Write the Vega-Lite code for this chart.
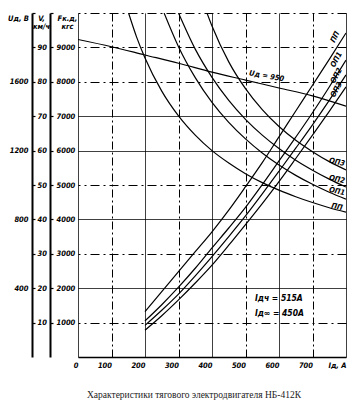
{
  "$schema": "https://vega.github.io/schema/vega-lite/v6.json",
  "width": 268,
  "height": 344,
  "autosize": {"type": "none"},
  "padding": {"left": 78, "top": 13, "right": 7, "bottom": 51},
  "background": "white",
  "config": {
    "view": {"stroke": null},
    "axis": {"labelFont": "Liberation Sans Narrow, DejaVu Sans Condensed, Liberation Sans", "labelFontSize": 7.5, "labelFontStyle": "italic", "labelFontWeight": "bold", "labelColor": "black", "titleFont": "Liberation Sans Narrow, DejaVu Sans Condensed, Liberation Sans", "titleColor": "black", "titleFontStyle": "italic", "titleFontWeight": "bold", "titleFontSize": 7.5, "labelOverlap": false}
  },
  "title": {"text": "Характеристики тягового электродвигателя НБ-412К", "orient": "bottom", "anchor": "middle", "font": "Liberation Serif", "fontSize": 9.5, "fontWeight": "normal", "color": "#222222", "dx": -18, "offset": 21},
  "datasets": {
    "speed": [
      {"series": "ПП", "I": 151, "V": 100}, {"series": "ПП", "I": 175, "V": 93.0}, {"series": "ПП", "I": 200, "V": 86.9}, {"series": "ПП", "I": 250, "V": 77.3}, {"series": "ПП", "I": 300, "V": 70.1}, {"series": "ПП", "I": 350, "V": 64.5}, {"series": "ПП", "I": 400, "V": 60.0}, {"series": "ПП", "I": 450, "V": 56.4}, {"series": "ПП", "I": 500, "V": 53.3}, {"series": "ПП", "I": 550, "V": 50.7}, {"series": "ПП", "I": 600, "V": 48.5}, {"series": "ПП", "I": 650, "V": 46.6}, {"series": "ПП", "I": 700, "V": 44.9}, {"series": "ПП", "I": 750, "V": 43.4}, {"series": "ПП", "I": 800, "V": 42.1},
      {"series": "ОП1", "I": 257, "V": 100}, {"series": "ОП1", "I": 300, "V": 90.2}, {"series": "ОП1", "I": 350, "V": 81.2}, {"series": "ОП1", "I": 400, "V": 74.0}, {"series": "ОП1", "I": 450, "V": 68.2}, {"series": "ОП1", "I": 500, "V": 63.4}, {"series": "ОП1", "I": 550, "V": 59.3}, {"series": "ОП1", "I": 600, "V": 55.8}, {"series": "ОП1", "I": 650, "V": 52.8}, {"series": "ОП1", "I": 700, "V": 50.2}, {"series": "ОП1", "I": 750, "V": 47.9}, {"series": "ОП1", "I": 800, "V": 45.9},
      {"series": "ОП2", "I": 300, "V": 100}, {"series": "ОП2", "I": 350, "V": 89.5}, {"series": "ОП2", "I": 400, "V": 81.3}, {"series": "ОП2", "I": 450, "V": 74.6}, {"series": "ОП2", "I": 500, "V": 69.1}, {"series": "ОП2", "I": 550, "V": 64.5}, {"series": "ОП2", "I": 600, "V": 60.6}, {"series": "ОП2", "I": 650, "V": 57.2}, {"series": "ОП2", "I": 700, "V": 54.3}, {"series": "ОП2", "I": 750, "V": 51.7}, {"series": "ОП2", "I": 800, "V": 49.4},
      {"series": "ОП3", "I": 385, "V": 100}, {"series": "ОП3", "I": 400, "V": 96.2}, {"series": "ОП3", "I": 450, "V": 85.8}, {"series": "ОП3", "I": 500, "V": 78.0}, {"series": "ОП3", "I": 550, "V": 71.9}, {"series": "ОП3", "I": 600, "V": 67.0}, {"series": "ОП3", "I": 650, "V": 63.0}, {"series": "ОП3", "I": 700, "V": 59.7}, {"series": "ОП3", "I": 750, "V": 56.8}, {"series": "ОП3", "I": 800, "V": 54.4},
      {"series": "U", "I": 0, "V": 92.3}, {"series": "U", "I": 100, "V": 90.2}, {"series": "U", "I": 200, "V": 87.8}, {"series": "U", "I": 300, "V": 85.4}, {"series": "U", "I": 400, "V": 82.8}, {"series": "U", "I": 500, "V": 80.5}, {"series": "U", "I": 600, "V": 78.2}, {"series": "U", "I": 700, "V": 75.9}, {"series": "U", "I": 800, "V": 72.9}
    ],
    "force": [
      {"series": "ПП", "I": 200, "F": 1320}, {"series": "ПП", "I": 250, "F": 1900}, {"series": "ПП", "I": 300, "F": 2480}, {"series": "ПП", "I": 350, "F": 3060}, {"series": "ПП", "I": 400, "F": 3640}, {"series": "ПП", "I": 450, "F": 4270}, {"series": "ПП", "I": 500, "F": 4950}, {"series": "ПП", "I": 550, "F": 5650}, {"series": "ПП", "I": 600, "F": 6400}, {"series": "ПП", "I": 650, "F": 7150}, {"series": "ПП", "I": 700, "F": 7900}, {"series": "ПП", "I": 750, "F": 8650}, {"series": "ПП", "I": 800, "F": 9420},
      {"series": "ОП1", "I": 200, "F": 1050}, {"series": "ОП1", "I": 250, "F": 1520}, {"series": "ОП1", "I": 300, "F": 2030}, {"series": "ОП1", "I": 350, "F": 2580}, {"series": "ОП1", "I": 400, "F": 3170}, {"series": "ОП1", "I": 450, "F": 3750}, {"series": "ОП1", "I": 500, "F": 4350}, {"series": "ОП1", "I": 550, "F": 5010}, {"series": "ОП1", "I": 600, "F": 5700}, {"series": "ОП1", "I": 650, "F": 6390}, {"series": "ОП1", "I": 700, "F": 7100}, {"series": "ОП1", "I": 750, "F": 7850}, {"series": "ОП1", "I": 800, "F": 8630},
      {"series": "ОП2", "I": 200, "F": 920}, {"series": "ОП2", "I": 250, "F": 1360}, {"series": "ОП2", "I": 300, "F": 1830}, {"series": "ОП2", "I": 350, "F": 2360}, {"series": "ОП2", "I": 400, "F": 2920}, {"series": "ОП2", "I": 450, "F": 3500}, {"series": "ОП2", "I": 500, "F": 4100}, {"series": "ОП2", "I": 550, "F": 4740}, {"series": "ОП2", "I": 600, "F": 5400}, {"series": "ОП2", "I": 650, "F": 6070}, {"series": "ОП2", "I": 700, "F": 6750}, {"series": "ОП2", "I": 750, "F": 7460}, {"series": "ОП2", "I": 800, "F": 8200},
      {"series": "ОП3", "I": 200, "F": 780}, {"series": "ОП3", "I": 250, "F": 1200}, {"series": "ОП3", "I": 300, "F": 1660}, {"series": "ОП3", "I": 350, "F": 2150}, {"series": "ОП3", "I": 400, "F": 2670}, {"series": "ОП3", "I": 450, "F": 3250}, {"series": "ОП3", "I": 500, "F": 3850}, {"series": "ОП3", "I": 550, "F": 4460}, {"series": "ОП3", "I": 600, "F": 5100}, {"series": "ОП3", "I": 650, "F": 5770}, {"series": "ОП3", "I": 700, "F": 6450}, {"series": "ОП3", "I": 750, "F": 7140}, {"series": "ОП3", "I": 800, "F": 7850}
    ],
    "speedLabels": [
      {"label": "ОП3", "I": 773, "V": 56.6},
      {"label": "ОП2", "I": 773, "V": 51.6},
      {"label": "ОП1", "I": 773, "V": 48.1},
      {"label": "ПП", "I": 773, "V": 43.6}
    ],
    "forceLabels": [
      {"label": "ПП", "I": 768, "F": 9300},
      {"label": "ОП1", "I": 772, "F": 8640},
      {"label": "ОП2", "I": 772, "F": 8175},
      {"label": "ОП3", "I": 772, "F": 7770}
    ],
    "notes": [
      {"label": "Iдч = 515А", "I": 528, "F": 1720},
      {"label": "Iд∞ = 450А", "I": 528, "F": 1280}
    ],
    "lineLabel": [
      {"label": "Uд = 950", "I": 563, "V": 81.6}
    ]
  },
  "encoding": {
    "x": {"field": "I", "type": "quantitative", "scale": {"domain": [0, 800], "nice": false, "zero": false},
      "axis": {"values": [0, 100, 200, 300, 400, 500, 600, 700, 800], "tickCount": 9, "title": null, "labelExpr": "datum.value == 800 ? 'Iд, А' : datum.label", "labelAlign": "right", "labelDx": -2, "labelPadding": 4, "ticks": false, "domainColor": "black", "domainWidth": 1.5, "grid": true, "gridColor": "black", "gridOpacity": 1, "gridWidth": 1, "gridDash": {"condition": {"test": "datum.value == 100 || datum.value == 300 || datum.value == 500 || datum.value == 700", "value": [8, 3, 2, 3]}, "value": [1, 0]}, "labelFlush": false, "labelOverlap": false}}
  },
  "layer": [
    {
      "data": {"name": "speed"},
      "mark": {"type": "line", "color": "black", "strokeWidth": 1.2, "interpolate": "monotone", "clip": true},
      "encoding": {
        "y": {"field": "V", "type": "quantitative", "scale": {"domain": [0, 100], "nice": false},
          "axis": {"orient": "right", "offset": -314, "values": [10, 20, 30, 40, 50, 60, 70, 80, 90, 100], "format": "d", "labelExpr": "datum.value == 100 ? '' : datum.label", "domainColor": "black", "domainWidth": 2, "tickColor": "black", "tickSize": 3, "tickWidth": 1.2, "labelPadding": 2, "grid": false, "title": ["V,", "км/ч"], "titleAngle": 0, "titleX": 9, "titleY": 1, "titleAlign": "center", "titleBaseline": "top", "titleLineHeight": 8}},
        "detail": {"field": "series"}
      }
    },
    {
      "data": {"name": "force"},
      "mark": {"type": "line", "color": "black", "strokeWidth": 1.2, "interpolate": "monotone", "clip": true},
      "encoding": {
        "y": {"field": "F", "type": "quantitative", "scale": {"domain": [0, 10000], "nice": false},
          "axis": {"orient": "right", "offset": -296, "values": [1000, 2000, 3000, 4000, 5000, 6000, 7000, 8000, 9000, 10000], "format": "d", "labelExpr": "datum.value == 10000 ? '' : datum.label", "domainColor": "black", "domainWidth": 2, "tickColor": "black", "tickSize": 3, "tickWidth": 1.2, "labelPadding": 3, "grid": true, "gridColor": "black", "gridOpacity": 1, "gridWidth": 1, "gridDash": {"condition": {"test": "datum.value == 2000 || datum.value == 4000 || datum.value == 6000 || datum.value == 7000", "value": [1, 0]}, "value": [9, 4, 2, 4]}, "title": ["Fк.д,", "кгс"], "titleAngle": 0, "titleX": 17, "titleY": 1, "titleAlign": "center", "titleBaseline": "top", "titleLineHeight": 8}},
        "detail": {"field": "series"}
      }
    },
    {
      "data": {"values": [{"U": 0}, {"U": 2000}]},
      "mark": {"type": "point", "opacity": 0},
      "encoding": {
        "y": {"field": "U", "type": "quantitative", "scale": {"domain": [0, 2000], "nice": false},
          "axis": {"orient": "left", "offset": 47, "values": [400, 800, 1200, 1600], "format": "d", "domain": false, "ticks": false, "labelPadding": 3, "grid": false, "title": "Uд, В", "titleAngle": 0, "titleX": -13, "titleY": 1, "titleAlign": "center", "titleBaseline": "top"}}
      }
    },
    {
      "data": {"name": "speedLabels"},
      "mark": {"type": "text", "font": "Liberation Sans Narrow, DejaVu Sans Condensed, Liberation Sans", "fontSize": 7.5, "fontStyle": "italic", "fontWeight": "bold", "color": "black", "angle": 12, "align": "center", "baseline": "middle"},
      "encoding": {
        "y": {"field": "V", "type": "quantitative", "scale": {"domain": [0, 100], "nice": false}, "axis": null},
        "text": {"field": "label"}
      }
    },
    {
      "data": {"name": "lineLabel"},
      "mark": {"type": "text", "font": "Liberation Sans Narrow, DejaVu Sans Condensed, Liberation Sans", "fontSize": 7.5, "fontStyle": "italic", "fontWeight": "bold", "color": "black", "angle": 10, "align": "center", "baseline": "middle"},
      "encoding": {
        "y": {"field": "V", "type": "quantitative", "scale": {"domain": [0, 100], "nice": false}, "axis": null},
        "text": {"field": "label"}
      }
    },
    {
      "data": {"name": "forceLabels"},
      "mark": {"type": "text", "font": "Liberation Sans Narrow, DejaVu Sans Condensed, Liberation Sans", "fontSize": 7.5, "fontStyle": "italic", "fontWeight": "bold", "color": "black", "angle": -62, "align": "center", "baseline": "middle"},
      "encoding": {
        "y": {"field": "F", "type": "quantitative", "scale": {"domain": [0, 10000], "nice": false}, "axis": null},
        "text": {"field": "label"}
      }
    },
    {
      "data": {"name": "notes"},
      "mark": {"type": "text", "font": "Liberation Sans Narrow, DejaVu Sans Condensed, Liberation Sans", "fontSize": 8.5, "fontStyle": "italic", "fontWeight": "bold", "color": "black", "align": "left", "baseline": "middle"},
      "encoding": {
        "y": {"field": "F", "type": "quantitative", "scale": {"domain": [0, 10000], "nice": false}, "axis": null},
        "text": {"field": "label"}
      }
    }
  ],
  "resolve": {"scale": {"y": "independent"}}
}
